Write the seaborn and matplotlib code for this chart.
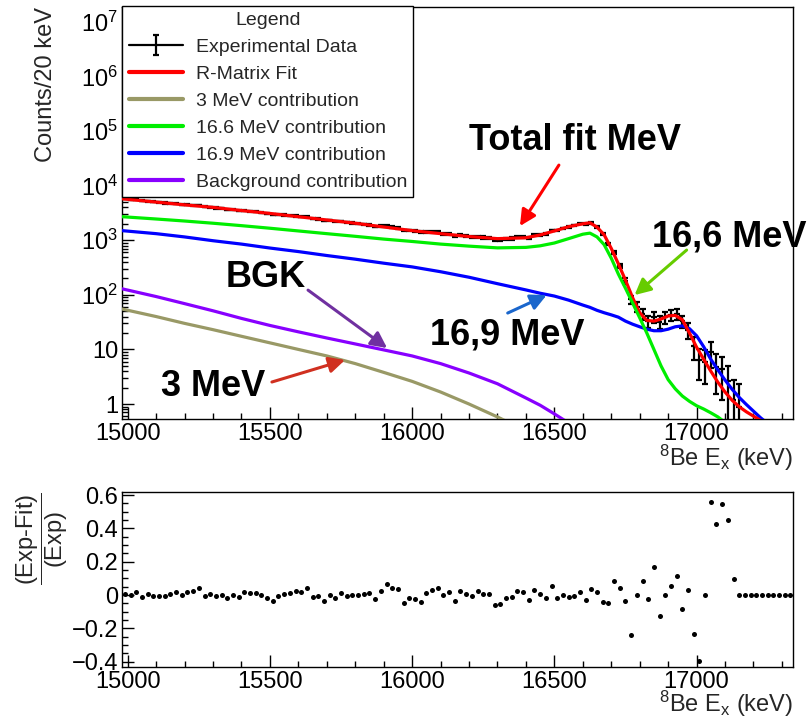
import numpy as np
import matplotlib
matplotlib.use('Agg')
import matplotlib.pyplot as plt
import seaborn as sns
from matplotlib.lines import Line2D
from matplotlib.legend_handler import HandlerTuple
from matplotlib.ticker import MultipleLocator, LogLocator, FuncFormatter, NullFormatter

nan = np.nan

# R-matrix curves (keV, counts / 20 keV)
E_fit = [14980, 15100, 15200, 15300, 15400, 15500, 15600, 15700, 15800, 15900,
         16000, 16100, 16200, 16300, 16400, 16450, 16500, 16550, 16600, 16625,
         16650, 16675, 16700, 16725, 16750, 16775, 16800, 16825, 16850, 16875,
         16900, 16925, 16950, 16975, 17000, 17025, 17050, 17075, 17100, 17125,
         17150, 17175, 17200, 17225, 17250, 17275, 17300]
fit_total = [5750, 5000, 4450, 4000, 3500, 3100, 2700, 2350, 2050, 1750,
             1500, 1320, 1170, 1070, 1110, 1250, 1480, 1770, 2000, 2090,
             1740, 1260, 710, 370, 186, 89, 47, 34, 33, 36,
             41, 42, 35, 20, 11, 6.6, 4.0, 2.5, 1.66, 1.17,
             0.89, 0.72, 0.60, 0.50, 0.42, nan, nan]
fit_166 = [2700, 2450, 2250, 2050, 1850, 1660, 1480, 1320, 1180, 1050,
           950, 850, 780, 725, 740, 790, 890, 1070, 1290, 1350,
           1150, 830, 470, 240, 132, 71, 38, 20, 10, 5.0,
           2.8, 1.9, 1.4, 1.12, 0.93, 0.81, 0.69, 0.58, 0.46, nan,
           nan, nan, nan, nan, nan, nan, nan]
fit_169 = [1500, 1320, 1150, 980, 850, 720, 620, 525, 450, 380,
           325, 265, 210, 160, 123, 107, 95, 80, 65, 59,
           52, 47, 43, 39, 33, 29, 26, 23.5, 22, 22,
           23.5, 26, 27, 24, 17.8, 11.2, 6.6, 4.2, 2.75, 1.86,
           1.32, 0.98, 0.74, 0.56, 0.44, nan, nan]
fit_bgk = [129, 93, 69, 51, 37, 27.5, 21, 16.2, 12.6, 9.8,
           7.6, 5.5, 3.7, 2.35, 1.29, 0.95, 0.66, 0.45, nan, nan,
           nan, nan, nan, nan, nan, nan, nan, nan, nan, nan,
           nan, nan, nan, nan, nan, nan, nan, nan, nan, nan,
           nan, nan, nan, nan, nan, nan, nan]
fit_3mev = [55, 40, 30, 23, 17.4, 13.2, 10, 7.6, 5.5, 3.8,
            2.6, 1.66, 1.0, 0.58, 0.32, nan, nan, nan, nan, nan,
            nan, nan, nan, nan, nan, nan, nan, nan, nan, nan,
            nan, nan, nan, nan, nan, nan, nan, nan, nan, nan,
            nan, nan, nan, nan, nan, nan, nan]

# experimental histogram, 20 keV bins starting at 14990 keV
exp_E = list(range(14990, 17151, 20))
exp_counts = [5720, 5560, 5520, 5250, 5220, 5030, 4915, 4810, 4760, 4710,
              4510, 4510, 4410, 4400, 4090, 4045, 3905, 3830, 3650, 3620,
              3465, 3500, 3400, 3315, 3205, 3065, 2950, 2940, 2900, 2835,
              2790, 2705, 2690, 2475, 2430, 2290, 2305, 2210, 2220, 2115,
              2065, 2010, 1955, 1905, 1780, 1805, 1840, 1740, 1680, 1510,
              1510, 1455, 1390, 1430, 1415, 1395, 1300, 1295, 1200, 1245,
              1195, 1160, 1170, 1125, 1105, 1015, 1020, 1060, 1080, 1130,
              1130, 1115, 1240, 1265, 1325, 1515, 1510, 1650, 1760, 1870,
              2025, 1965, 2090, 1770, 1295, 850, 595, 340, 180, 83,
              61, 45, 33, 40, 32, 39, 43, 45, 33, 23,
              11.5, 6.5, 6.0, 9.0, 4.8, 4.3, 2.6, 1.2, 0.9]
exp_err = [113, 112, 111, 109, 108, 106, 105, 104, 103, 103,
           101, 101, 100, 99, 96, 95, 94, 93, 91, 90,
           88, 89, 87, 86, 85, 83, 81, 81, 81, 80,
           79, 78, 78, 75, 74, 72, 72, 71, 71, 69,
           68, 67, 66, 65, 63, 64, 64, 63, 61, 58,
           58, 57, 56, 57, 56, 56, 54, 54, 52, 53,
           52, 51, 51, 50, 50, 48, 48, 49, 49, 50,
           50, 50, 53, 53, 55, 58, 58, 61, 63, 65,
           67, 66, 69, 63, 54, 44, 37, 28, 20, 14,
           12, 10, 8.6, 9.5, 8.5, 9.4, 9.8, 10, 8.6, 7.2,
           5.1, 3.8, 3.7, 4.5, 3.3, 3.1, 2.4, 1.6, 1.4]

# residuals (Exp-Fit)/Exp
res_E = list(range(14990, 17331, 20))
residual = [0.006, 0.0, 0.016, -0.012, 0.006, -0.008, -0.008, -0.006, 0.006, 0.02,
            -0.002, 0.02, 0.022, 0.042, -0.008, 0.004, -0.006, 0.002, -0.018, 0.002,
            -0.014, 0.02, 0.014, 0.012, 0.002, -0.02, -0.034, -0.008, 0.006, 0.01,
            0.022, 0.018, 0.04, -0.014, -0.006, -0.038, -0.002, -0.018, 0.014, -0.006,
            -0.002, 0.0, 0.006, 0.01, -0.024, 0.022, 0.068, 0.044, 0.034, -0.046,
            -0.018, -0.026, -0.044, 0.012, 0.03, 0.042, -0.002, 0.016, -0.036, 0.026,
            0.004, -0.006, 0.022, 0.006, 0.006, -0.062, -0.054, -0.02, -0.01, 0.026,
            0.018, -0.032, 0.032, 0.004, -0.016, 0.056, -0.016, 0.0, -0.01, -0.006,
            0.02, -0.032, 0.036, 0.016, -0.04, -0.05, 0.086, 0.04, -0.038, -0.24,
            0.0, 0.084, -0.022, 0.17, -0.128, -0.002, 0.056, 0.114, -0.082, 0.028,
            -0.234, -0.398, -0.002, 0.556, 0.424, 0.546, 0.45, 0.094, 0.0, 0.0,
            0.0, 0.0, 0.0, 0.0, 0.0, 0.0, 0.0, 0.0]

labels = ['Experimental Data', 'R-Matrix Fit', '3 MeV contribution',
          '16.6 MeV contribution', '16.9 MeV contribution', 'Background contribution']

sns.set_style('ticks')
plt.rcParams['font.family'] = ['Liberation Sans', 'DejaVu Sans']
plt.rcParams['mathtext.fontset'] = 'custom'
plt.rcParams['mathtext.rm'] = 'Liberation Sans'
plt.rcParams['mathtext.it'] = 'Liberation Sans:italic'
plt.rcParams['mathtext.bf'] = 'Liberation Sans:bold'

fig = plt.figure(figsize=(8.11, 7.18), dpi=100)
ax1 = fig.add_axes([0.1508, 0.4164, 0.8270, 0.5738])
ax2 = fig.add_axes([0.1508, 0.0710, 0.8270, 0.2437])

ax1.set_yscale('log')

# data
ax1.errorbar(exp_E, exp_counts, xerr=10, fmt='none', ecolor='black', elinewidth=1.6, capsize=0, zorder=2)
eb = ax1.errorbar(exp_E, exp_counts, yerr=exp_err, fmt='none', ecolor='black',
                  elinewidth=1.6, capsize=2.5, capthick=1.6, zorder=2)

c_total, c_3, c_166, c_169, c_bgk = '#ff0000', '#999966', '#00ee00', '#0000ff', '#8800ff'
lw = 2.3
sns.lineplot(x=E_fit, y=fit_3mev, ax=ax1, color=c_3, lw=lw, estimator=None, legend=False, zorder=3)
sns.lineplot(x=E_fit, y=fit_bgk, ax=ax1, color=c_bgk, lw=lw, estimator=None, legend=False, zorder=3)
sns.lineplot(x=E_fit, y=fit_169, ax=ax1, color=c_169, lw=lw, estimator=None, legend=False, zorder=3)
sns.lineplot(x=E_fit, y=fit_total, ax=ax1, color=c_total, lw=lw, estimator=None, legend=False, zorder=4)
sns.lineplot(x=E_fit, y=fit_166, ax=ax1, color=c_166, lw=lw, estimator=None, legend=False, zorder=5)

ax1.set_xlim(14981, 17339)
ax1.set_ylim(0.531, 1.87e7)


def log_fmt(v, pos):
    n = int(round(np.log10(v)))
    if n == 0:
        return '1'
    if n == 1:
        return '10'
    return r'$\mathregular{10^{%d}}$' % n


ax1.yaxis.set_major_locator(LogLocator(base=10, numticks=20))
ax1.yaxis.set_minor_locator(LogLocator(base=10, subs=np.arange(2, 10), numticks=20))
ax1.yaxis.set_major_formatter(FuncFormatter(log_fmt))
ax1.yaxis.set_minor_formatter(NullFormatter())

for ax in (ax1, ax2):
    ax.xaxis.set_major_locator(MultipleLocator(500))
    ax.xaxis.set_minor_locator(MultipleLocator(100))
    ax.xaxis.set_major_formatter(FuncFormatter(lambda v, p: '%d' % v))
    ax.tick_params(which='both', direction='in', labelsize=17, colors='black', width=1,
                   top=False, right=False, pad=3)
    ax.tick_params(which='major', length=8.5)
    ax.tick_params(which='minor', length=4.3)
    for s in ax.spines.values():
        s.set_color('black')
        s.set_linewidth(1.0)

ax1.set_xlabel(r'$^{8}$Be E$_{\mathrm{x}}$ (keV)', fontsize=17, loc='right', labelpad=-2)
ax2.set_xlabel(r'$^{8}$Be E$_{\mathrm{x}}$ (keV)', fontsize=17, loc='right', labelpad=-3.5)
ax1.set_ylabel('Counts/20 keV', fontsize=17, loc='top', labelpad=17)

# residual panel
sns.scatterplot(x=res_E, y=residual, ax=ax2, color='black', s=13, linewidth=0)
ax2.set_xlim(14981, 17339)
ax2.set_ylim(-0.432, 0.618)
ax2.yaxis.set_major_locator(MultipleLocator(0.2))
ax2.yaxis.set_minor_locator(MultipleLocator(0.05))
ax2.yaxis.set_major_formatter(FuncFormatter(
    lambda v, p: '0' if abs(v) < 1e-9 else ('%.1f' % v).replace('-', '\u2212')))
ax2.set_ylabel(r'$\dfrac{\mathrm{(Exp\text{-}Fit)}}{\mathrm{(Exp)}}$', fontsize=17, loc='top', labelpad=1)

# legend
data_handle = (Line2D([], [], color='black', lw=1.6), eb)
handles = [data_handle,
           Line2D([], [], color=c_total, lw=3),
           Line2D([], [], color=c_3, lw=3),
           Line2D([], [], color=c_166, lw=3),
           Line2D([], [], color=c_169, lw=3),
           Line2D([], [], color=c_bgk, lw=3)]
leg = ax1.legend(handles, labels, title='Legend', loc='upper left', bbox_to_anchor=(0, 1.003),
                 borderaxespad=0, fontsize=14, title_fontsize=14, frameon=True, fancybox=False,
                 edgecolor='black', framealpha=1, handlelength=2.8, handletextpad=0.65,
                 labelspacing=0.48, borderpad=0.32,
                 handler_map={tuple: HandlerTuple(ndivide=1)})
leg.get_frame().set_linewidth(1.0)

# annotations
bold = dict(fontsize=26, fontweight='bold', color='black', ha='center', va='center')
ax1.text(16574, 6.8e4, 'Total fit MeV', **bold)
ax1.text(17116, 1145, '16,6 MeV', **bold)
ax1.text(16335, 18.4, '16,9 MeV', **bold)
ax1.text(15486, 212, 'BGK', **bold)
ax1.text(15301, 2.05, '3 MeV', **bold)

arrows = [((16379, 1820), (16516, 23800), '#ff0000'),
          ((16782, 99), (16965, 661), '#66cc00'),
          ((16473, 99), (16336, 46.4), '#1a66cc'),
          ((15912, 10.6), (15634, 122), '#7030a0'),
          ((15764, 6.4), (15507, 2.53), '#d03020')]
for tip, start, col in arrows:
    ax1.annotate('', xy=tip, xytext=start,
                 arrowprops=dict(arrowstyle='-|>', color=col, lw=2.2, mutation_scale=24,
                                 shrinkA=0, shrinkB=0), zorder=6)

fig.savefig('out.png', dpi=100)
